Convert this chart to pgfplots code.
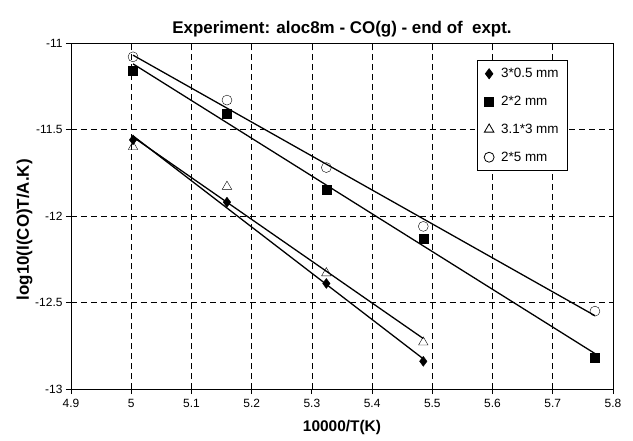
\documentclass[border=0pt]{standalone}
\usepackage{pgfplots}
\usepackage{pgfplotstable}
\pgfplotsset{compat=1.18}
\usepackage{fontspec}
\setmainfont{Liberation Sans}

% 3*0.5 mm
\pgfplotstableread{
x y
5.003 -11.56
5.159 -11.92
5.324 -12.39
5.485 -12.84
}\diatab
% 2*2 mm
\pgfplotstableread{
x y
5.003 -11.16
5.159 -11.41
5.324 -11.85
5.485 -12.13
5.770 -12.82
}\sqtab
% 3.1*3 mm
\pgfplotstableread{
x y
5.003 -11.60
5.159 -11.83
5.324 -12.33
5.485 -12.73
}\tritab
% 2*5 mm
\pgfplotstableread{
x y
5.003 -11.08
5.159 -11.33
5.324 -11.72
5.485 -12.06
5.770 -12.55
}\circtab

\begin{document}
\begin{tikzpicture}
\begin{axis}[
    name=ax,
    scale only axis,
    width=542bp, height=346bp,
    xmin=4.9, xmax=5.8, ymin=-13, ymax=-11,
    xtick={4.9,5.0,...,5.81},
    ytick={-13,-12.5,...,-10.9},
    grid=major,
    grid style={black, line width=0.6pt, dash pattern=on 6pt off 4pt},
    axis line style={black, line width=0.8pt},
    tick style={black, line width=0.8pt},
    tick align=outside, tick pos=left,
    major tick length=5bp,
    ticklabel style={font=\fontsize{12}{14}\selectfont},
    xticklabel style={yshift=-2pt},
    /pgf/number format/assume math mode=true,
    title={\fontsize{17}{19}\selectfont\bfseries Experiment: aloc8m - CO(g) - end of\ \ expt.},
    title style={yshift=-4pt},
    xlabel={\fontsize{15.5}{17}\selectfont\bfseries 10000/T(K)},
    xlabel style={yshift=-6pt},
    ylabel={\fontsize{17}{19}\selectfont\bfseries log10(I(CO)T/A.K)},
    ylabel style={at={(ticklabel cs:0.46)}, yshift=-4pt},
    legend style={at={(0.917,0.951)}, anchor=north east, draw=black,
        font=\fontsize{13.5}{15}\selectfont, row sep=13pt, inner xsep=7pt, inner ysep=6pt,
        line width=0.8pt,
        /tikz/every odd column/.append style={column sep=5pt}},
    legend cell align=left,
]
\addplot[black, only marks, mark=diamond*, mark size=5pt] table[x=x,y=y] \diatab;
\addlegendentry{3*0.5 mm}
\addplot[black, only marks, mark=square*, mark size=4.5pt] table[x=x,y=y] \sqtab;
\addlegendentry{2*2 mm}
\addplot[black, only marks, mark=triangle, mark size=5.5pt, mark options={fill=white}] table[x=x,y=y] \tritab;
\addlegendentry{3.1*3 mm}
\addplot[black, only marks, mark=o, mark size=5pt, mark options={fill=white}] table[x=x,y=y] \circtab;
\addlegendentry{2*5 mm}

\addplot[black, line width=1.3pt, no marks, forget plot] table[x=x, y={create col/linear regression={y=y}}] \diatab;
\addplot[black, line width=1.3pt, no marks, forget plot] table[x=x, y={create col/linear regression={y=y}}] \sqtab;
\addplot[black, line width=1.3pt, no marks, forget plot] table[x=x, y={create col/linear regression={y=y}}] \tritab;
\addplot[black, line width=1.3pt, no marks, forget plot] table[x=x, y={create col/linear regression={y=y}}] \circtab;
\end{axis}
\pgfresetboundingbox
\path ([xshift=-71bp,yshift=-52bp]ax.south west) rectangle ([xshift=20bp,yshift=43bp]ax.north east);
\end{tikzpicture}
\end{document}
